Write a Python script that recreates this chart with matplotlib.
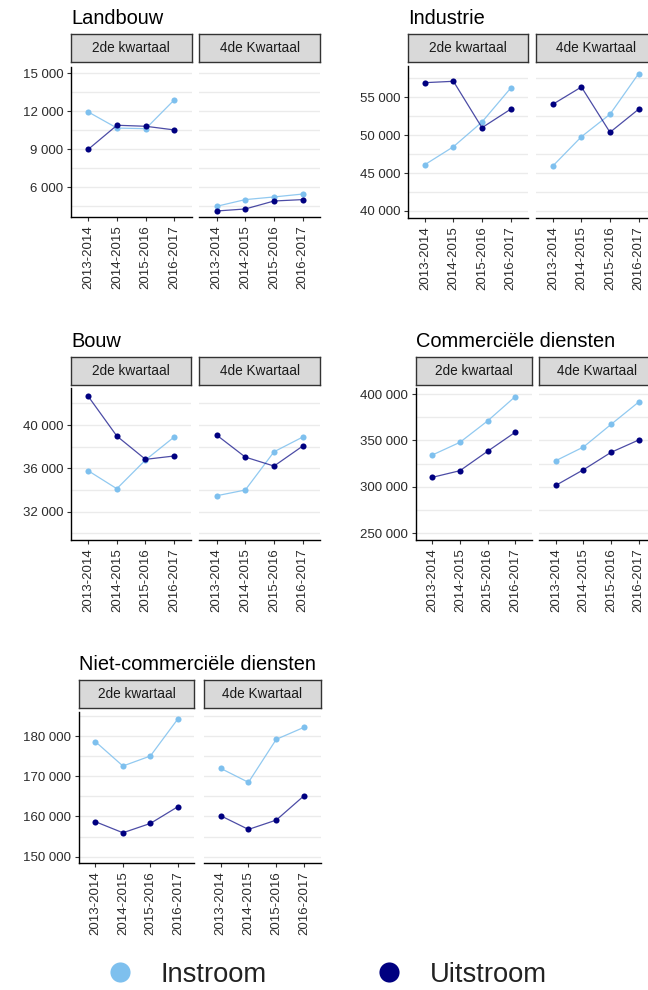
import matplotlib
matplotlib.use('Agg')
import matplotlib.pyplot as plt
from matplotlib.lines import Line2D
from matplotlib.ticker import FixedLocator, FuncFormatter

plt.rcParams['font.family'] = ['Liberation Sans', 'DejaVu Sans']

# ---------------- data ----------------
periods = ['2013-2014', '2014-2015', '2015-2016', '2016-2017']
quarters = ['2de kwartaal', '4de Kwartaal']
series_names = ['Instroom', 'Uitstroom']

landbouw_in_q2 = [11950, 10680, 10630, 12920]
landbouw_uit_q2 = [9000, 10900, 10820, 10530]
landbouw_in_q4 = [4500, 5030, 5240, 5470]
landbouw_uit_q4 = [4130, 4290, 4920, 5030]

industrie_in_q2 = [46110, 48480, 51740, 56190]
industrie_uit_q2 = [56930, 57110, 50990, 53420]
industrie_in_q4 = [45940, 49800, 52760, 58110]
industrie_uit_q4 = [54080, 56360, 50380, 53420]

bouw_in_q2 = [35780, 34120, 36770, 38890]
bouw_uit_q2 = [42650, 38980, 36830, 37140]
bouw_in_q4 = [33470, 34000, 37530, 38890]
bouw_uit_q4 = [39080, 37040, 36210, 38060]

comm_in_q2 = [334300, 347970, 370930, 397130]
comm_uit_q2 = [310290, 317420, 338290, 358760]
comm_in_q4 = [328240, 342960, 367350, 391390]
comm_uit_q4 = [301690, 318500, 337230, 350480]

niet_in_q2 = [178580, 172540, 175030, 184230]
niet_uit_q2 = [158690, 155950, 158270, 162420]
niet_in_q4 = [171960, 168480, 179170, 182160]
niet_uit_q4 = [160180, 156780, 159100, 165150]

landbouw_ticks = [6000, 9000, 12000, 15000]
industrie_ticks = [40000, 45000, 50000, 55000]
bouw_ticks = [32000, 36000, 40000]
comm_ticks = [250000, 300000, 350000, 400000]
niet_ticks = [150000, 160000, 170000, 180000]

sectors = [
    ('Landbouw', landbouw_in_q2, landbouw_uit_q2, landbouw_in_q4, landbouw_uit_q4, landbouw_ticks),
    ('Industrie', industrie_in_q2, industrie_uit_q2, industrie_in_q4, industrie_uit_q4, industrie_ticks),
    ('Bouw', bouw_in_q2, bouw_uit_q2, bouw_in_q4, bouw_uit_q4, bouw_ticks),
    ('Commerciële diensten', comm_in_q2, comm_uit_q2, comm_in_q4, comm_uit_q4, comm_ticks),
    ('Niet-commerciële diensten', niet_in_q2, niet_uit_q2, niet_in_q4, niet_uit_q4, niet_ticks),
]

# ---------------- layout (pixels) ----------------
W, H = 648, 990
layout = {
    'Landbouw': dict(panels=[(71, 191.7), (199.3, 320)], plot_y=(66.5, 216.7),
                     strip_y=(34, 62.3), title_y=24, ylim=(3680, 15540)),
    'Industrie': dict(panels=[(407.7, 527.7), (535.7, 655.7)], plot_y=(65.7, 217.7),
                      strip_y=(34, 62.3), title_y=24, ylim=(39116, 59168)),
    'Bouw': dict(panels=[(71, 191.3), (199.3, 320)], plot_y=(388.3, 540),
                 strip_y=(357.3, 385), title_y=346.7, ylim=(29388, 43387)),
    'Commerciële diensten': dict(panels=[(415.7, 531.7), (539.3, 655.3)], plot_y=(388.3, 540),
                                 strip_y=(357.3, 385), title_y=346.7, ylim=(242820, 406138)),
    'Niet-commerciële diensten': dict(panels=[(79, 194.3), (204, 320.7)], plot_y=(711.7, 863.3),
                                      strip_y=(680, 708.3), title_y=670, ylim=(148360, 186040)),
}

C_IN = '#7EC0EE'
C_OUT = '#000080'
GRID = '#EBEBEB'
TXT = '#2B2B2B'

fig = plt.figure(figsize=(W / 100, H / 100), dpi=100)


def box(x0, y0, x1, y1):
    return [x0 / W, 1 - y1 / H, (x1 - x0) / W, (y1 - y0) / H]


fmt = FuncFormatter(lambda v, p: f"{int(round(v)):,}".replace(',', ' '))
xs = list(range(len(periods)))

for name, in_q2, uit_q2, in_q4, uit_q4, ticks in sectors:
    L = layout[name]
    y0, y1 = L['plot_y']
    step = ticks[1] - ticks[0]
    minors = [t - step / 2 for t in ticks] + [ticks[-1] + step / 2]
    for k, (px0, px1) in enumerate(L['panels']):
        ax = fig.add_axes(box(px0, y0, px1, y1))
        ax.set_facecolor('white')
        ax.set_xlim(-0.6, len(periods) - 0.4)
        ax.set_ylim(*L['ylim'])
        for g in ticks + minors:
            ax.axhline(g, color=GRID, lw=1.0, zorder=0)
        vin = in_q2 if k == 0 else in_q4
        vout = uit_q2 if k == 0 else uit_q4
        ax.plot(xs, vin, color=C_IN, lw=0.9, alpha=0.85, zorder=2)
        ax.plot(xs, vin, 'o', color=C_IN, ms=4.4, mew=0, zorder=3)
        ax.plot(xs, vout, color=C_OUT, lw=0.9, alpha=0.7, zorder=4)
        ax.plot(xs, vout, 'o', color=C_OUT, ms=4.4, mew=0, zorder=5)
        ax.set_xticks(xs)
        ax.set_xticklabels(periods, rotation=90, fontsize=9.5, color=TXT)
        ax.tick_params(axis='x', length=3.0, width=0.8, color='#333333', pad=3)
        for s in ['top', 'right']:
            ax.spines[s].set_visible(False)
        ax.spines['bottom'].set_color('black')
        ax.spines['bottom'].set_linewidth(1.0)
        if k == 0:
            ax.yaxis.set_major_locator(FixedLocator(ticks))
            ax.yaxis.set_major_formatter(fmt)
            ax.tick_params(axis='y', length=3.0, width=0.8, color='#333333', pad=2.5,
                           labelsize=9.5, labelcolor=TXT)
            ax.spines['left'].set_color('black')
            ax.spines['left'].set_linewidth(1.0)
        else:
            ax.spines['left'].set_visible(False)
            ax.set_yticks([])
        # strip
        sy0, sy1 = L['strip_y']
        sax = fig.add_axes(box(px0, sy0, px1, sy1))
        sax.set_facecolor('#D9D9D9')
        sax.set_xticks([])
        sax.set_yticks([])
        for s in sax.spines.values():
            s.set_color('#333333')
            s.set_linewidth(1.0)
        sax.text(0.5, 0.5, quarters[k], ha='center', va='center', fontsize=9.8,
                 color='#1A1A1A', transform=sax.transAxes)
    fig.text(L['panels'][0][0] / W, 1 - L['title_y'] / H, name, ha='left', va='baseline',
             fontsize=14.4, color='black')

handles = [Line2D([], [], marker='o', ls='', color=C_IN, ms=14.5, mew=0),
           Line2D([], [], marker='o', ls='', color=C_OUT, ms=14.5, mew=0)]
fig.legend(handles, series_names, loc='center left', bbox_to_anchor=((120 - 13.5) / W, 1 - 975 / H),
           ncol=2, frameon=False, fontsize=19.7, handlelength=1.0, handletextpad=0.98,
           columnspacing=3.98, borderpad=0, borderaxespad=0, labelcolor='#222222')

fig.savefig('out.png', dpi=100)
